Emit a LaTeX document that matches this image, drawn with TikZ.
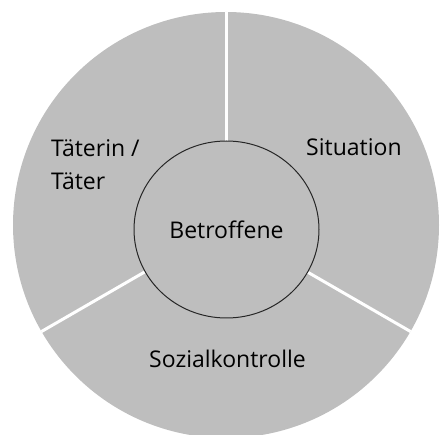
\documentclass[tikz,border=0pt]{standalone}
\usepackage{fontspec}
\setmainfont{Open Sans}
\usetikzlibrary{shapes.geometric}
\definecolor{MyGrey}{HTML}{BEBEBE}

\begin{document}
\begin{tikzpicture}[x=1pt, y=-1pt,
			every node/.style={font=\fontsize{23}{33}\selectfont, inner sep=0pt},
			ring/.style={circle, fill=MyGrey, minimum size=426pt},
			core/.style={ellipse, draw=black!85, line width=1pt, fill=MyGrey, minimum width=185pt, minimum height=177pt},
			divider/.style={white, line width=3pt}
		]
			\useasboundingbox (0,0) rectangle (442,435);

			\node (ring) [ring] at (226,225) {};

			\draw[divider] (ring.center) -- (ring.90);
			\draw[divider] (ring.center) -- (ring.210);
			\draw[divider] (ring.center) -- (ring.330);

			\node (core) [core] at (226.5,229.5) {Betroffene};

			\node (taeter) [anchor=base west, align=left] at (51,190) {Täterin /\\Täter};
			\node (situation) [anchor=base west] at (306,156) {Situation};
			\node (sozial) [anchor=base] at (227.5,368) {Sozialkontrolle};
		\end{tikzpicture}
\end{document}
